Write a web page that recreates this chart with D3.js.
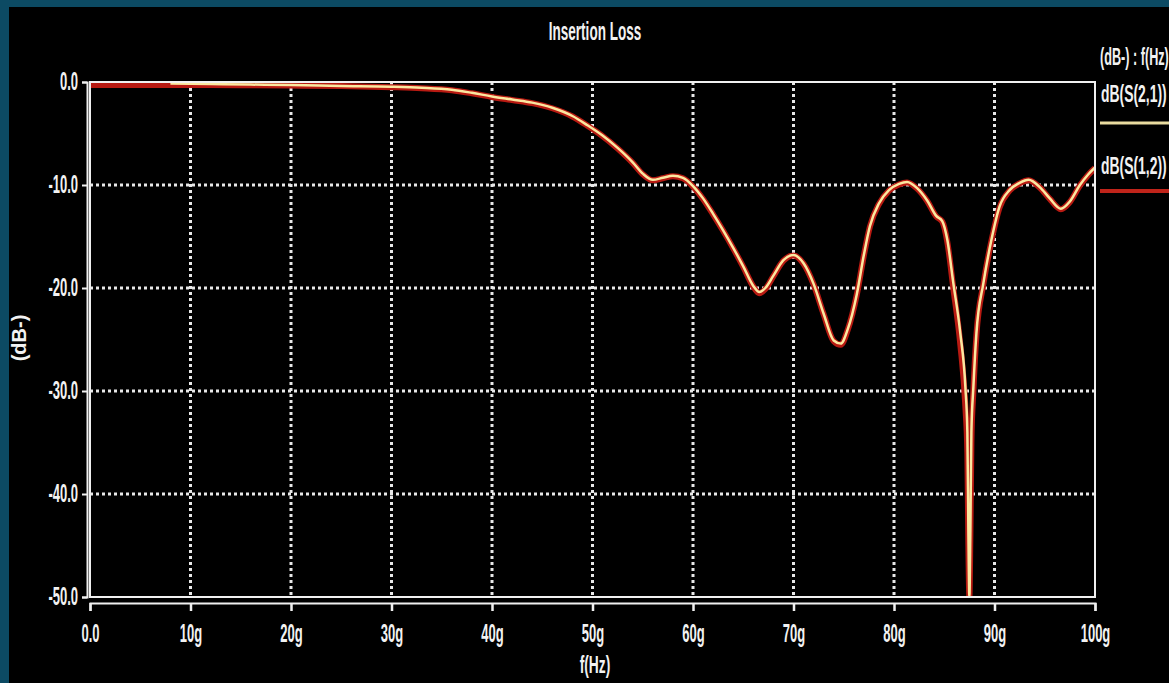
<!DOCTYPE html>
<html>
<head>
<meta charset="utf-8">
<script src="https://cdn.jsdelivr.net/npm/d3@7"></script>
<style>
  html, body { margin: 0; padding: 0; background: #0c4a63; }
  svg { display: block; }
  text { font-family: "Liberation Sans", Arial, sans-serif; fill: #f2f2f2; }
</style>
</head>
<body>
<svg id="chart" width="1169" height="683"></svg>
<script>
// ---- data ----
const chartTitle = "Insertion Loss";
const xTitle = "f(Hz)";
const yTitle = "(dB-)";
const legendHeader = "(dB-) : f(Hz)";
const seriesNames = ["dB(S(2,1))", "dB(S(1,2))"];

const xTickValues = [0, 10, 20, 30, 40, 50, 60, 70, 80, 90, 100];
const xTickLabels = ["0.0", "10g", "20g", "30g", "40g", "50g", "60g", "70g", "80g", "90g", "100g"];
const yTickValues = [0, -10, -20, -30, -40, -50];
const yTickLabels = ["0.0", "-10.0", "-20.0", "-30.0", "-40.0", "-50.0"];

// frequency in GHz
const freq = [0, 4, 8, 12, 16, 20, 25, 30, 33, 36, 38, 40, 42, 44, 46, 48, 49.5, 51, 52.5, 54,
  55, 56, 57, 58, 59, 60, 61, 62, 63, 64, 65, 66, 66.6, 67.2, 68, 69, 70, 71, 72, 73,
  74, 74.7, 75.4, 76.3, 77, 77.6, 78.5, 79.5, 80.5, 81.3, 82.3, 83.3, 84.2, 84.8, 85.3, 85.9,
  86.6, 87.1, 87.3, 87.4, 87.5, 87.6, 87.7, 87.9, 88.2, 88.9, 89.7, 90.5, 91.5, 92.5,
  93.4, 94.5, 95.5, 96.6, 97.5, 98.5, 99.3, 100];

const s21 = [null, null, -0.15, -0.2, -0.25, -0.3, -0.38, -0.45, -0.55, -0.75, -1.05, -1.4, -1.7, -2.0, -2.5, -3.3, -4.2, -5.2, -6.4, -7.8,
  -8.9, -9.5, -9.3, -9.1, -9.3, -10.1, -11.3, -12.8, -14.4, -16.1, -17.9, -19.8, -20.4, -20.0, -18.8, -17.3, -16.8, -17.6, -19.6, -22.5,
  -25.1, -25.4, -24.0, -20.6, -16.8, -14.0, -11.8, -10.5, -9.9, -9.7, -10.3, -11.5, -13.0, -13.5, -15.3, -19.5,
  -24.4, -29.6, -34.0, -43.5, -50.0, -43.5, -34.0, -29.6, -24.4, -19.5, -15.3, -12.1, -10.5, -9.8,
  -9.5, -10.2, -11.3, -12.3, -11.6, -10.0, -9.0, -8.3];

const s12 = [-0.3, -0.3, -0.3, -0.3, -0.32, -0.35, -0.4, -0.5, -0.6, -0.8, -1.1, -1.45, -1.75, -2.05, -2.55, -3.35, -4.25, -5.25, -6.45, -7.85,
  -8.95, -9.55, -9.35, -9.15, -9.35, -10.15, -11.35, -12.85, -14.45, -16.15, -17.95, -19.85, -20.5, -20.1, -18.85, -17.35, -16.85, -17.65, -19.65, -22.55,
  -25.15, -25.5, -24.05, -20.65, -16.85, -14.05, -11.85, -10.55, -9.95, -9.75, -10.35, -11.55, -13.05, -13.55, -15.5, -20.0,
  -25.5, -31.5, -36.0, -45.0, -50.0, -44.0, -35.0, -30.0, -24.6, -19.6, -15.4, -12.2, -10.55, -9.85,
  -9.55, -10.25, -11.35, -12.35, -11.65, -10.05, -9.05, -8.35];

// ---- layout ----
const svg = d3.select("#chart");
const W = 1169, H = 683;
const plot = { left: 90, right: 1095, top: 82, bottom: 597 };
const condensed = 0.52;

svg.append("rect").attr("x", 9).attr("y", 7).attr("width", W - 9).attr("height", H - 7).attr("fill", "#000");

const x = d3.scaleLinear().domain([0, 100]).range([plot.left, plot.right]);
const y = d3.scaleLinear().domain([-50, 0]).range([plot.bottom, plot.top]);

// grid
const grid = svg.append("g").attr("stroke", "#e8e8e8").attr("stroke-width", 3).attr("stroke-dasharray", "3,3");
grid.selectAll("line.v").data(xTickValues.filter(v => v > 0 && v < 100)).join("line")
  .attr("x1", d => x(d)).attr("x2", d => x(d)).attr("y1", plot.top).attr("y2", plot.bottom);
grid.selectAll("line.h").data(yTickValues.filter(v => v < 0 && v > -50)).join("line")
  .attr("y1", d => y(d)).attr("y2", d => y(d)).attr("x1", plot.left).attr("x2", plot.right);

// lines
svg.append("clipPath").attr("id", "clip").append("rect")
  .attr("x", plot.left).attr("y", plot.top - 2).attr("width", plot.right - plot.left).attr("height", plot.bottom - plot.top + 2);

const lineGen = vals => d3.line()
  .defined((d, i) => vals[i] !== null)
  .x((d, i) => x(freq[i]))
  .y((d, i) => y(vals[i]))
  .curve(d3.curveMonotoneX)(freq);

const lines = svg.append("g").attr("clip-path", "url(#clip)").attr("fill", "none")
  .attr("stroke-linejoin", "round");
lines.append("path").attr("d", lineGen(s12)).attr("stroke", "#b81a12").attr("stroke-width", 6);
lines.append("path").attr("d", lineGen(s21)).attr("stroke", "#fbe8a0").attr("stroke-width", 2.5);

// plot frame
svg.append("rect").attr("x", plot.left).attr("y", plot.top)
  .attr("width", plot.right - plot.left).attr("height", plot.bottom - plot.top)
  .attr("fill", "none").attr("stroke", "#f0f0f0").attr("stroke-width", 2);

// y axis
const yAxis = d3.axisLeft(y).tickValues(yTickValues)
  .tickFormat((d, i) => yTickLabels[i]).tickSize(5).tickPadding(4);
const gy = svg.append("g").attr("transform", `translate(${plot.left - 3},0)`).call(yAxis);
gy.select(".domain").attr("stroke", "#f0f0f0").attr("stroke-width", 2);
gy.selectAll(".tick line").attr("stroke", "#f0f0f0").attr("stroke-width", 2);
gy.selectAll(".tick text")
  .attr("font-size", 25).attr("font-weight", "bold").attr("fill", "#f2f2f2")
  .attr("font-family", "Liberation Sans, Arial, sans-serif")
  .attr("x", -9 / condensed).attr("dy", "0.3em")
  .attr("transform", `scale(${condensed},1)`);

// x axis
const xAxis = d3.axisBottom(x).tickValues(xTickValues)
  .tickFormat((d, i) => xTickLabels[i]).tickSize(8).tickPadding(13);
const gx = svg.append("g").attr("transform", `translate(0,${plot.bottom + 6})`).call(xAxis);
gx.select(".domain").attr("stroke", "#f0f0f0").attr("stroke-width", 2);
gx.selectAll(".tick line").attr("stroke", "#f0f0f0").attr("stroke-width", 2.5);
gx.selectAll(".tick text")
  .attr("font-size", 25).attr("font-weight", "bold").attr("fill", "#f2f2f2")
  .attr("font-family", "Liberation Sans, Arial, sans-serif")
  .attr("transform", `scale(${condensed},1)`);

// condensed text helper
function ctext(px, py, str, opts = {}) {
  const g = svg.append("g").attr("transform", `translate(${px},${py})${opts.rotate ? ` rotate(${opts.rotate})` : ""}`);
  g.append("text")
    .attr("transform", `scale(${opts.sx || condensed},1)`)
    .attr("text-anchor", opts.anchor || "start")
    .attr("font-size", opts.size || 25)
    .attr("font-weight", opts.weight || "bold")
    .text(str);
  return g;
}

ctext(595, 40, chartTitle, { anchor: "middle", size: 26, sx: 0.52 });
ctext(595, 673, xTitle, { anchor: "middle", size: 23, sx: 0.6 });
ctext(26, 338, yTitle, { anchor: "middle", size: 20, sx: 1.0, rotate: -90 });

// legend
ctext(1100, 65, legendHeader, { size: 23, sx: 0.55 });
ctext(1101, 102, seriesNames[0], { size: 24, sx: 0.58 });
ctext(1101, 174, seriesNames[1], { size: 24, sx: 0.58 });
const legendColors = ["#e9dca0", "#c0241a"];
const legendY = [123, 191];
const legendW = [3, 4];
svg.selectAll("line.leg").data(seriesNames).join("line")
  .attr("x1", 1100).attr("x2", W)
  .attr("y1", (d, i) => legendY[i]).attr("y2", (d, i) => legendY[i])
  .attr("stroke", (d, i) => legendColors[i]).attr("stroke-width", (d, i) => legendW[i]);
</script>
</body>
</html>
